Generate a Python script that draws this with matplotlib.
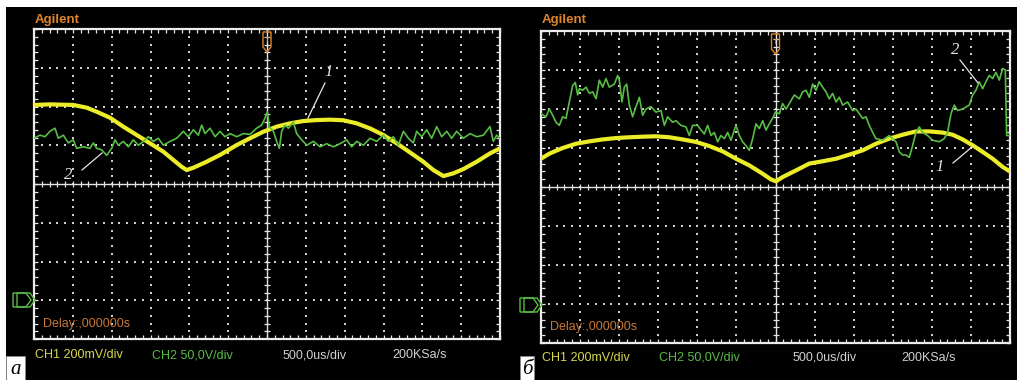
import numpy as np
import matplotlib
matplotlib.use("Agg")
import matplotlib.pyplot as plt
from matplotlib.patches import Rectangle, Polygon
from matplotlib.lines import Line2D

# ---------------- data (time in µs, CH1 in mV, CH2 in V) ----------------
# panel а
t_a_ch1 = [-3000, -2794, -2494, -2322, -2193, -2021, -1850, -1678, -1506, -1335,
           -1206, -1099, -1034, -948, -777, -605, -390, -219, -47, 125, 296, 468,
           640, 811, 983, 1155, 1326, 1498, 1670, 1841, 2013, 2142, 2271, 2399,
           2528, 2700, 2871, 3000]
ch1_a = [1008, 1011, 1008, 994, 973, 942, 896, 853, 810, 767,
         724, 689, 672, 684, 715, 750, 801, 836, 870, 896, 913, 925,
         930, 932, 929, 913, 887, 853, 810, 763, 715, 672, 641, 655,
         677, 715, 758, 784]

t_a_ch2 = [-3000, -2923, -2858, -2794, -2730, -2687, -2622, -2558, -2494, -2451,
           -2365, -2279, -2236, -2193, -2129, -2064, -2000, -1957, -1914, -1850,
           -1785, -1721, -1657, -1592, -1528, -1463, -1399, -1335, -1249, -1163,
           -1077, -1013, -948, -884, -841, -798, -734, -669, -605, -541,
           -476, -390, -305, -219, -133, -69, -26, 4, 30, 82,
           125, 159, 189, 232, 275, 339, 382, 447, 511, 597,
           683, 768, 854, 940, 1026, 1090, 1155, 1241, 1326, 1412,
           1498, 1562, 1627, 1691, 1756, 1820, 1884, 1927, 1992, 2056,
           2120, 2185, 2249, 2314, 2378, 2442, 2528, 2614, 2700, 2786,
           2871, 2914, 2957, 3000]
ch2_a = [209, 213, 211, 218, 222, 209, 213, 203, 207, 196,
         198, 196, 203, 196, 194, 187, 196, 207, 200, 205,
         198, 207, 200, 205, 211, 205, 209, 200, 205, 209,
         218, 211, 220, 213, 226, 215, 222, 211, 218, 211,
         215, 211, 215, 214, 222, 226, 235, 243, 224, 218,
         205, 196, 218, 226, 222, 230, 215, 207, 200, 205,
         198, 202, 198, 202, 207, 198, 205, 200, 209, 205,
         213, 205, 211, 200, 218, 209, 203, 218, 211, 220,
         209, 224, 211, 218, 209, 218, 209, 215, 211, 213,
         224, 205, 213, 209]

# panel б
t_b_ch1 = [-3000, -2893, -2723, -2552, -2382, -2211, -2041, -1870, -1700, -1529,
           -1358, -1188, -1017, -847, -676, -506, -335, -164, -58, 6,
           91, 262, 432, 603, 774, 944, 1115, 1285, 1456, 1626,
           1797, 1968, 2138, 2266, 2394, 2522, 2650, 2778, 2906, 3000]
ch1_b = [745, 771, 800, 822, 834, 844, 851, 855, 858, 860,
         855, 844, 831, 810, 783, 745, 711, 668, 639, 629,
         651, 685, 720, 732, 745, 766, 788, 822, 848, 868,
         885, 885, 879, 868, 844, 814, 780, 745, 703, 680]

t_b_ch2 = [-3000, -2936, -2893, -2851, -2808, -2766, -2723, -2680, -2638, -2595,
           -2561, -2531, -2510, -2467, -2424, -2382, -2339, -2296, -2254, -2211,
           -2169, -2126, -2062, -2019, -1998, -1964, -1934, -1904, -1870, -1828,
           -1785, -1742, -1700, -1657, -1593, -1529, -1465, -1422, -1380, -1316,
           -1273, -1209, -1145, -1103, -1060, -996, -953, -911, -868, -825,
           -783, -740, -698, -655, -612, -570, -506, -463, -421, -378,
           -335, -292, -250, -207, -164, -122, -79, -36, -2, 49,
           91, 134, 177, 241, 305, 347, 390, 433, 475, 518,
           560, 603, 646, 688, 731, 774, 816, 859, 923, 987,
           1029, 1072, 1115, 1157, 1200, 1243, 1285, 1371, 1456, 1541,
           1584, 1626, 1669, 1712, 1754, 1797, 1840, 1882, 1946, 2010,
           2095, 2159, 2202, 2245, 2287, 2330, 2394, 2479, 2522, 2564,
           2607, 2650, 2692, 2735, 2778, 2820, 2863, 2906, 2940, 2957, 3000]
ch2_b = [244, 240, 250, 242, 233, 229, 240, 238, 259, 280,
         284, 268, 276, 274, 278, 270, 272, 263, 287, 278,
         289, 278, 282, 293, 287, 259, 278, 282, 255, 240,
         253, 265, 242, 250, 253, 246, 248, 229, 240, 233,
         235, 229, 227, 216, 229, 229, 223, 218, 229, 216,
         220, 208, 216, 212, 220, 210, 229, 216, 208, 203,
         197, 212, 231, 225, 235, 223, 231, 238, 246, 244,
         257, 250, 257, 268, 263, 272, 274, 265, 282, 274,
         285, 278, 272, 263, 270, 259, 265, 255, 259, 248,
         250, 244, 238, 240, 229, 220, 212, 210, 216, 208,
         195, 191, 191, 188, 203, 220, 227, 220, 216, 210,
         208, 212, 220, 244, 255, 248, 250, 255, 268, 274,
         285, 276, 285, 293, 289, 297, 287, 302, 300, 216, 216]

bottom_labels = ["CH1 200mV/div", "CH2 50,0V/div", "500,0us/div", "200KSa/s"]
delay_label = "Delay:,000000s"
brand = "Agilent"
panel_letters = ["а", "б"]

# ---------------- layout ----------------
W, H = 1017, 380
fig = plt.figure(figsize=(W / 100, H / 100), dpi=100, facecolor="white")


def fx(x):
    return x / W


def fy(y):
    return 1 - y / H


fig.patches.append(Rectangle((fx(6), 0), 1 - fx(6), fy(7), transform=fig.transFigure,
                             facecolor="black", edgecolor="none", zorder=0))

YEL = "#ecec28"
GRN = "#58bd44"
ORG = "#e0842c"
GRID = "#cfcfcf"
SANS = ["Liberation Sans", "DejaVu Sans"]
SERIF = ["Liberation Serif", "DejaVu Serif"]

panels = [
    dict(box=(34, 29, 500, 339), t1=t_a_ch1, c1=ch1_a, t2=t_a_ch2, c2=ch2_a,
         txt_y=355, delay_y=324, gnd_y=300, letter_box=(6, 356, 25, 380),
         label_x=[35, 152, 283, 392],
         ann=[("1", 329, 72, (325, 83), (308, 118)), ("2", 68, 175, (82, 170), (102, 153))]),
    dict(box=(541, 31, 1010, 343), t1=t_b_ch1, c1=ch1_b, t2=t_b_ch2, c2=ch2_b,
         txt_y=358, delay_y=327, gnd_y=305, letter_box=(520, 356, 534, 380),
         label_x=[542, 659, 793, 901],
         ann=[("2", 955, 50, (960, 60), (978, 83)), ("1", 940, 167, (953, 163), (972, 147))]),
]

label_colors = ["#d8d84a", GRN, "#d0d0d0", "#d0d0d0"]

for i, p in enumerate(panels):
    x0, y0, x1, y1 = p["box"]
    rect = [fx(x0), fy(y1), (x1 - x0) / W, (y1 - y0) / H]
    ax = fig.add_axes(rect, facecolor="black", zorder=1)
    ax.set_xlim(-3000, 3000)
    ax.set_ylim(-50, 350)
    # dotted graticule
    for gx in np.arange(-2500, 2501, 500):
        if gx == 0:
            continue
        ys = np.arange(-50, 351, 10)
        ax.scatter(np.full(ys.shape, gx), ys, s=1.3, marker="s", color=GRID, lw=0)
    for gy in np.arange(0, 301, 50):
        if gy == 150:
            continue
        xs = np.arange(-3000, 3001, 100)
        ax.scatter(xs, np.full(xs.shape, gy), s=1.3, marker="s", color=GRID, lw=0)
    # center axes with ticks
    ax.axhline(150, color="#e4e4e4", lw=1.0)
    ax.axvline(0, color="#e4e4e4", lw=1.0)
    xs = np.arange(-3000, 3001, 100)
    ax.plot(xs, np.full(xs.shape, 150), ls="none", marker="|", ms=4, mew=0.9, color="#e4e4e4")
    ys = np.arange(-50, 351, 10)
    ax.plot(np.zeros(ys.shape), ys, ls="none", marker="_", ms=4, mew=0.9, color="#e4e4e4")
    # border ticks
    ax.set_xticks(np.arange(-3000, 3001, 100))
    ax.set_yticks(np.arange(-50, 351, 10))
    ax.tick_params(direction="in", length=3, width=0.9, color="#e4e4e4",
                   top=True, right=True, labelbottom=False, labelleft=False)
    for s in ax.spines.values():
        s.set_color("#ececec")
        s.set_linewidth(1.6)

    # CH1 trace
    a1 = fig.add_axes(rect, facecolor="none", zorder=2)
    a1.set_xlim(-3000, 3000)
    a1.set_ylim(-200, 1400)
    a1.axis("off")
    a1.plot(p["t1"], p["c1"], color=YEL, lw=3.0, solid_joinstyle="round")

    # CH2 trace
    a2 = fig.add_axes(rect, facecolor="none", zorder=3)
    a2.set_xlim(-3000, 3000)
    a2.set_ylim(-50, 350)
    a2.axis("off")
    a2.plot(p["t2"], p["c2"], color=GRN, lw=1.2)

    # brand text
    fig.text(fx(x0 + 1), fy(20), brand, color=ORG, fontsize=9.5, fontweight="bold",
             family=SANS, va="center", ha="left")
    # delay text
    fig.text(fx(x0 + 9), fy(p["delay_y"]), delay_label, color="#c87838", fontsize=9,
             family=SANS, va="center", ha="left", zorder=5)
    # bottom labels
    for lab, lx, lc in zip(bottom_labels, p["label_x"], label_colors):
        fig.text(fx(lx), fy(p["txt_y"]), lab, color=lc, fontsize=9, family=SANS,
                 va="center", ha="left")

    # trigger marker at top centre
    cx = (x0 + x1) / 2
    trig = [(cx - 4, y0 + 3), (cx + 4, y0 + 3), (cx + 4, y0 + 18), (cx, y0 + 23), (cx - 4, y0 + 18)]
    fig.patches.append(Polygon([(fx(a), fy(b)) for a, b in trig], closed=True,
                               transform=fig.transFigure, facecolor="none",
                               edgecolor=ORG, lw=1.0, zorder=6))
    fig.text(fx(cx), fy(y0 + 11), "T", color=ORG, fontsize=6, family=SANS,
             ha="center", va="center", zorder=6)

    # ground marker(s)
    gy = p["gnd_y"]
    gl = x0 - 21
    for off in (0, 4):
        g = [(gl + off, gy - 7), (gl + off + 13, gy - 7), (gl + off + 18, gy),
             (gl + off + 13, gy + 7), (gl + off, gy + 7)]
        fig.patches.append(Polygon([(fx(a), fy(b)) for a, b in g], closed=True,
                                   transform=fig.transFigure, facecolor="none",
                                   edgecolor=GRN, lw=1.0, zorder=6))

    # curve labels with leader lines
    for txt, tx, ty, (lx0, ly0), (lx1, ly1) in p["ann"]:
        fig.text(fx(tx), fy(ty), txt, color="#e6e6e6", fontsize=12, style="italic",
                 family=SERIF, ha="center", va="center", zorder=7)
        fig.lines.append(Line2D([fx(lx0), fx(lx1)], [fy(ly0), fy(ly1)],
                                transform=fig.transFigure, color="#e6e6e6", lw=0.9, zorder=7))

    # panel letter box
    bx0, by0, bx1, by1 = p["letter_box"]
    fig.patches.append(Rectangle((fx(bx0), fy(by1)), (bx1 - bx0) / W, (by1 - by0) / H,
                                 transform=fig.transFigure, facecolor="white",
                                 edgecolor="#888888", lw=0.5, zorder=8))
    fig.text(fx((bx0 + bx1) / 2), fy((by0 + by1) / 2 + 1), panel_letters[i], color="black",
             fontsize=15, style="italic", family=SERIF, ha="center", va="center", zorder=9)

fig.savefig("out.png", dpi=100, facecolor="white")
